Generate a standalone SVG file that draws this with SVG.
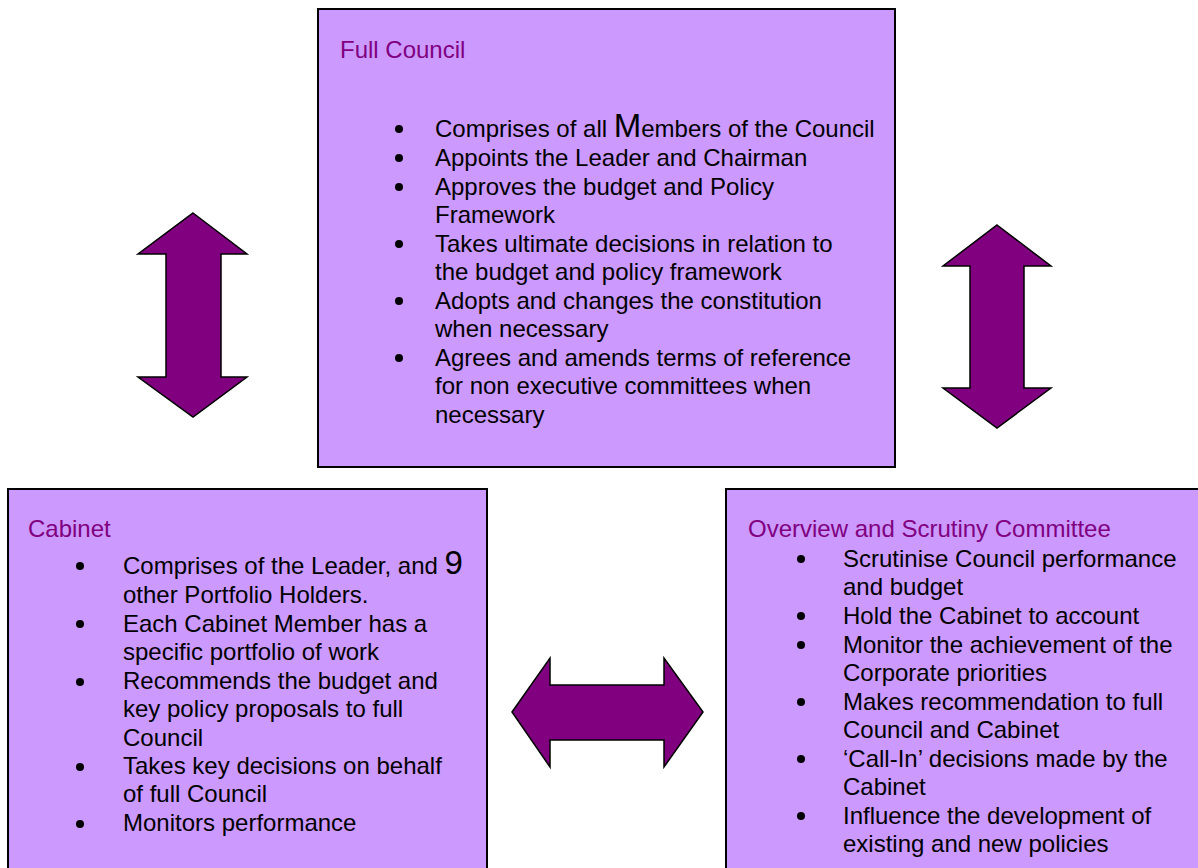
<svg xmlns="http://www.w3.org/2000/svg" width="1198" height="868" viewBox="0 0 1198 868">
<style>
.box{fill:#CC99FF;stroke:#000;stroke-width:2}
.title{font-family:"Liberation Sans",Arial,sans-serif;font-size:24px;fill:#800080}
.t{font-family:"Liberation Sans",Arial,sans-serif;font-size:24px;fill:#000}
.big{font-size:33px}
.dot{fill:#000}
.arrow{fill:#800080;stroke:#000;stroke-width:1.5;stroke-linejoin:miter}
</style>
<rect width="1198" height="868" fill="#fff"/>
<g id="full-council">
<rect class="box" x="318" y="9" width="577" height="458"/>
<text class="title" x="340" y="58">Full Council</text>
<circle class="dot" cx="399" cy="129" r="4"/>
<circle class="dot" cx="399" cy="158" r="4"/>
<circle class="dot" cx="399" cy="187" r="4"/>
<circle class="dot" cx="399" cy="244" r="4"/>
<circle class="dot" cx="399" cy="301" r="4"/>
<circle class="dot" cx="399" cy="358" r="4"/>
<text class="t" x="435" y="137">Comprises of all <tspan class="big">M</tspan>embers of the Council</text>
<text class="t" x="435" y="166">Appoints the Leader and Chairman</text>
<text class="t" x="435" y="195">Approves the budget and Policy</text>
<text class="t" x="435" y="223">Framework</text>
<text class="t" x="435" y="252">Takes ultimate decisions in relation to</text>
<text class="t" x="435" y="280">the budget and policy framework</text>
<text class="t" x="435" y="309">Adopts and changes the constitution</text>
<text class="t" x="435" y="337">when necessary</text>
<text class="t" x="435" y="366">Agrees and amends terms of reference</text>
<text class="t" x="435" y="394">for non executive committees when</text>
<text class="t" x="435" y="423">necessary</text>
</g>
<g id="cabinet">
<rect class="box" x="8" y="489" width="479" height="400"/>
<text class="title" x="28" y="537">Cabinet</text>
<circle class="dot" cx="80" cy="566" r="4"/>
<circle class="dot" cx="80" cy="624" r="4"/>
<circle class="dot" cx="80" cy="682" r="4"/>
<circle class="dot" cx="80" cy="767" r="4"/>
<circle class="dot" cx="80" cy="824" r="4"/>
<text class="t" x="123" y="574">Comprises of the Leader, and <tspan class="big">9</tspan></text>
<text class="t" x="123" y="603">other Portfolio Holders.</text>
<text class="t" x="123" y="632">Each Cabinet Member has a</text>
<text class="t" x="123" y="660">specific portfolio of work</text>
<text class="t" x="123" y="689">Recommends the budget and</text>
<text class="t" x="123" y="717">key policy proposals to full</text>
<text class="t" x="123" y="746">Council</text>
<text class="t" x="123" y="774">Takes key decisions on behalf</text>
<text class="t" x="123" y="802">of full Council</text>
<text class="t" x="123" y="831">Monitors performance</text>
</g>
<g id="overview-scrutiny">
<rect class="box" x="726" y="489" width="490" height="400"/>
<text class="title" x="748" y="537">Overview and Scrutiny Committee</text>
<circle class="dot" cx="801" cy="559" r="4"/>
<circle class="dot" cx="801" cy="616" r="4"/>
<circle class="dot" cx="801" cy="645" r="4"/>
<circle class="dot" cx="801" cy="702" r="4"/>
<circle class="dot" cx="801" cy="759" r="4"/>
<circle class="dot" cx="801" cy="816" r="4"/>
<text class="t" x="843" y="567">Scrutinise Council performance</text>
<text class="t" x="843" y="595">and budget</text>
<text class="t" x="843" y="624">Hold the Cabinet to account</text>
<text class="t" x="843" y="653">Monitor the achievement of the</text>
<text class="t" x="843" y="681">Corporate priorities</text>
<text class="t" x="843" y="710">Makes recommendation to full</text>
<text class="t" x="843" y="738">Council and Cabinet</text>
<text class="t" x="843" y="767">‘Call-In’ decisions made by the</text>
<text class="t" x="843" y="795">Cabinet</text>
<text class="t" x="843" y="824">Influence the development of</text>
<text class="t" x="843" y="852">existing and new policies</text>
</g>
<g id="connectors">
<polygon class="arrow" points="193,213 247,254 221,254 221,377 247,377 193,417 138,377 166,377 166,254 138,254"/>
<polygon class="arrow" points="997,225 1051,266 1024,266 1024,388 1051,388 997,428 943,388 970,388 970,266 943,266"/>
<polygon class="arrow" points="512,712 550,658 550,685 664,685 664,658 703,712 664,767 664,740 550,740 550,767"/>
</g>
</svg>
